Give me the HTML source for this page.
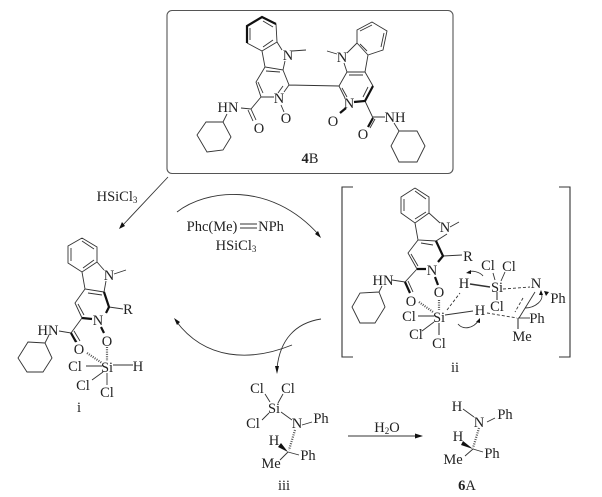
<!DOCTYPE html>
<html><head><meta charset="utf-8"><style>
html,body{margin:0;padding:0;background:#fff}
svg{display:block}
text{font-family:"Liberation Serif",serif;font-size:14.500px;fill:#222;text-anchor:middle}
.b{fill:none;stroke:#111;stroke-width:2.2}
.g{fill:none;stroke:#777;stroke-width:1.600}
.d{fill:none;stroke:#555;stroke-width:2.200;stroke-dasharray:1 1.300}
.h{stroke-dasharray:3 2}
.a{fill:#111;stroke:none}
</style></head><body>
<svg width="602" height="497" viewBox="0 0 602 497" xmlns="http://www.w3.org/2000/svg">
<rect x="167" y="10.500" width="286" height="163" rx="5" fill="none" stroke="#555" stroke-width="1.100"/>
<g fill="none" stroke="#333" stroke-width=".9">
<!-- 4B left -->
<path d="M276,24L277,42L262,51L247,43M277,42L282,50M292,51L306,50M285,61L283,70L265,67L262,51M283,70L289,85L284,92M274,97L261,97L256,82L265,67M266,71L280,72M258,82L263,93M283,86L278,93M261,97L251,109L241,108M223,122L231,137L223,150L207,152L197,135L206,122L223,122M223,122L227,114M251,109L256,120M248,110L253,121M289,85L339,86M281,105L284,112M273,27L263,21M273,40L263,47M250,40L250,28"/>
<path class="b" d="M247,43L247,26L262,17L276,24"/>
<!-- 4B right -->
<path d="M357,43L357,30L372,22L387,31L383,50L368,55L357,43M360,31L372,25M384,33L381,47M367,51L360,44M357,43L347,53M327,51L337,54M344,63L347,72L365,72L373,86M349,75L363,75M368,55L365,72M339,86L347,72M339,86L345,98M342,88L347,97M373,117L385,117M399,131L417,131L425,146L417,162L399,162L391,146L399,131M399,131L394,123M368,87L363,97M365,101L373,118M375,119L370,128"/>
<path class="b" d="M354,102L365,101L373,86M373,118L368,127"/>
<path class="b" d="M346,108L340,113"/>
<!-- i -->
<path d="M82,238L97,247L97,262L82,272L68,263L68,246L82,238M82,241L94,249M94,260L83,268M71,248L71,261M97,262L104,270M114,274L126,270M106,281L104,292M104,292L85,289L82,272M85,289L75,303L82,318M88,293L102,295M78,304L84,315M109,307L123,309M82,318L71,333L59,331M45,343L52,358L43,372L27,372L18,358L28,342L45,343M45,343L49,335M71,333L77,342M74,331L80,341M86,366L102,366M113,365L133,365M92,380L103,372M107,373L107,385"/>
<path class="b" d="M104,292L109,307L106,313M82,318L92,319M101,327L104,333M71,333L76,342"/>
<path class="d" d="M87,353L102,363M107,347L107,361"/>
<!-- ii -->
<path d="M415,188L429,197L429,213L415,223L401,213L401,197L415,188M415,191L426,199M426,212L415,219M404,199L404,211M429,213L440,223M450,227L459,222M447,234L436,241L418,240L415,223M418,240L408,253L417,269M421,243L433,245M411,254L418,266M443,256L462,255M417,269L405,282L392,280M379,292L385,307L375,323L360,323L352,307L360,293L379,292M379,292L382,286M405,282L410,293M408,281L413,292M422,331L434,322"/>
<path class="g" d="M418,316L434,316M439,323L439,335"/>
<path class="b" d="M436,241L443,256L438,262M417,269L426,269M435,277L438,285M405,282L410,293"/>
<path d="M445,315L473,311"/>
<path class="d" d="M419,302L433,312M439,300L439,310"/>
<path class="h" d="M447,310L460,293"/>
<path d="M470,284L490,287" stroke-width="1.500"/>
<path class="h" d="M503,289L530,287"/>
<path d="M493,273L495,280M505,272L501,281"/>
<path class="g" d="M497,292L497,300M518,318L518,329"/>
<path d="M535,292L519,318"/>
<path class="h" d="M523,298L515,312"/>
<path class="h" d="M487,313L517,318"/>
<path d="M518,318L530,318"/>
<path d="M483,276C480,272 472,270 468,272"/>
<path class="a" d="M466,273l5,-3l0,4z"/>
<path d="M458,324C463,330 473,329 479,320"/>
<path class="a" d="M480,318l-4,4l4,1z"/>
<path d="M525,308C535,308 545,300 541,293"/>
<path class="a" d="M541,290l-2,5l4,0z"/>
<path class="a" d="M544,291l5,1l-3,4z"/>
<!-- iii -->
<path d="M265,394L270,402M283,394L278,403M262,420L269,413M281,412L292,420M302,425L312,422M288,452L299,455M288,452L280,460"/>
<path class="a" d="M288,452L281,443L278,447z"/>
<path class="d" d="M295,430L289,450"/>
<!-- 6A -->
<path d="M463,409L474,417M487,422L495,418M473,449L483,452M473,449L465,456"/>
<path class="a" d="M473,449L463,441L461,445z"/>
<path class="d" d="M479,428L473,448"/>
<!-- arrows -->
<path d="M168,177L122,226"/>
<path class="a" d="M119,229l3,-7l3,4z"/>
<path d="M177,212C205,190 270,180 319,235"/>
<path class="a" d="M321,238l-6,-4l3,-3z"/>
<path d="M292,345C250,362 205,360 176,321"/>
<path class="a" d="M174,318l6,4l-3,3z"/>
<path d="M321,319C295,323 280,340 277,368"/>
<path class="a" d="M277,374l-2,-8l4,0z"/>
<path d="M348,436L418,436" stroke-width="1.100"/>
<path class="a" d="M423,436l-8,-2.500l0,5z"/>
<path d="M353,187L342,187L342,357L353,357M559,187L570,187L570,357L559,357" stroke-width="1.100"/>
<path d="M240,224L257,224M240,228L257,228"/>
</g>
<!-- labels -->
<text x="288" y="60">N</text><text x="279" y="103">N</text><text x="286" y="123">O</text><text x="259" y="133">O</text><text x="228" y="112">HN</text>
<text x="342" y="62">N</text><text x="349" y="108">N</text><text x="333" y="126">O</text><text x="363" y="139">O</text><text x="395" y="122">NH</text>
<text x="310" y="163"><tspan font-weight="bold">4</tspan>B</text>
<text x="117" y="201">HSiCl<tspan font-size="9" dy="2">3</tspan></text>
<text x="109" y="280">N</text><text x="128" y="314">R</text><text x="98" y="325">N</text><text x="107" y="346">O</text><text x="79" y="354">O</text><text x="48" y="335">HN</text>
<text x="107" y="372">Si</text><text x="75" y="371">Cl</text><text x="138" y="371">H</text><text x="83" y="390">Cl</text><text x="107" y="397">Cl</text><text x="79" y="412">i</text>
<text x="212" y="231">Phc(Me)</text><text x="271" y="231">NPh</text>
<text x="236" y="250">HSiCl<tspan font-size="9" dy="2">3</tspan></text>
<text x="445" y="232">N</text><text x="468" y="261">R</text><text x="432" y="275">N</text><text x="439" y="297">O</text><text x="411" y="306">O</text><text x="383" y="285">HN</text>
<text x="439" y="322">Si</text><text x="409" y="321">Cl</text><text x="416" y="339">Cl</text><text x="439" y="348">Cl</text>
<text x="464" y="288">H</text><text x="497" y="292">Si</text><text x="488" y="270">Cl</text><text x="509" y="271">Cl</text><text x="497" y="311">Cl</text>
<text x="536" y="288">N</text><text x="558" y="303">Ph</text><text x="480" y="315">H</text><text x="537" y="323">Ph</text><text x="522" y="341">Me</text><text x="455" y="372">ii</text>
<text x="257" y="393">Cl</text><text x="288" y="393">Cl</text><text x="274" y="413">Si</text><text x="253" y="428">Cl</text><text x="297" y="428">N</text><text x="321" y="423">Ph</text><text x="274" y="445">H</text><text x="308" y="460">Ph</text><text x="271" y="468">Me</text><text x="284" y="490">iii</text>
<text x="387" y="432">H<tspan font-size="9" dy="2">2</tspan><tspan dy="-2">O</tspan></text>
<text x="457" y="411">H</text><text x="479" y="427">N</text><text x="505" y="419">Ph</text><text x="458" y="441">H</text><text x="492" y="458">Ph</text><text x="453" y="464">Me</text>
<text x="467" y="490"><tspan font-weight="bold">6</tspan>A</text>
</svg>
</body></html>
